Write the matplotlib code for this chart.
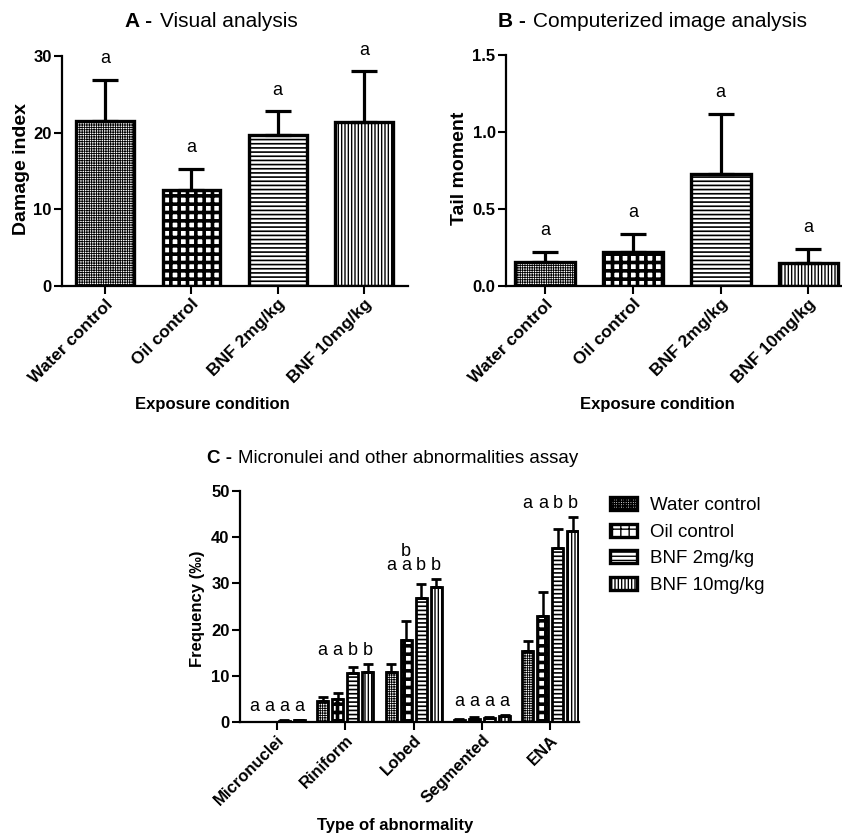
import matplotlib.pyplot as plt
import numpy as np
from matplotlib.patches import Patch

plt.rcParams['font.family'] = ['Liberation Sans', 'DejaVu Sans']

# --- data ---
groups = ['Water control', 'Oil control', 'BNF 2mg/kg', 'BNF 10mg/kg']

# Panel A: comet assay, visual analysis
damage_mean = [21.5, 12.5, 19.7, 21.4]
damage_err = [5.4, 2.8, 3.1, 6.6]
damage_letters = ['a', 'a', 'a', 'a']

# Panel B: comet assay, computerized analysis
tail_mean = [0.156, 0.22, 0.727, 0.149]
tail_err = [0.064, 0.117, 0.393, 0.091]
tail_letters = ['a', 'a', 'a', 'a']

# Panel C: micronuclei and nuclear abnormalities
abn_types = ['Micronuclei', 'Riniform', 'Lobed', 'Segmented', 'ENA']
water_freq = [0.0, 4.6, 10.8, 0.4, 15.4]
oil_freq = [0.0, 5.0, 17.7, 0.7, 22.9]
bnf2_freq = [0.3, 10.5, 26.8, 0.8, 37.6]
bnf10_freq = [0.4, 10.9, 29.3, 1.2, 41.3]
water_err = [0.0, 0.9, 1.7, 0.2, 2.2]
oil_err = [0.0, 1.3, 4.2, 0.3, 5.2]
bnf2_err = [0.1, 1.3, 3.1, 0.3, 4.2]
bnf10_err = [0.1, 1.6, 1.7, 0.4, 3.0]
abn_letters = [['a', 'a', 'a', 'a'],
               ['a', 'a', 'b', 'b'],
               ['a', 'b\na', 'b', 'b'],
               ['a', 'a', 'a', 'a'],
               ['a', 'a', 'b', 'b']]

# --- styles ---
hatches = ['+++++++', '++', '----', '|||||']
hatch_lws = [0.6, 2.6, 1.2, 1.0]

W, H = 842, 839
fig = plt.figure(figsize=(W / 100, H / 100), dpi=100)


def px_axes(l, t, r, b):
    return fig.add_axes([l / W, 1 - b / H, (r - l) / W, (b - t) / H])


def hatched_bars(ax, x, h, width, idx, lw):
    bars = ax.bar(x, h, width, color='white', edgecolor='black', linewidth=lw,
                  hatch=hatches[idx], zorder=2)
    for b in bars:
        if hasattr(b, 'set_hatch_linewidth'):
            b.set_hatch_linewidth(hatch_lws[idx])
    return bars


def style_axes(ax):
    for s in ['top', 'right']:
        ax.spines[s].set_visible(False)
    for s in ['left', 'bottom']:
        ax.spines[s].set_linewidth(1.6)
    ax.tick_params(direction='out', length=5.5, width=1.5, pad=2)
    for lab in ax.get_yticklabels():
        lab.set_fontweight('bold')
        lab.set_fontsize(12)


# ---------------- Panel A ----------------
axA = px_axes(62, 56, 408, 286)
xA = np.arange(len(groups))
for i in range(len(groups)):
    hatched_bars(axA, xA[i], damage_mean[i], 0.67, i, 2.4)
axA.errorbar(xA, damage_mean, yerr=[np.zeros(len(groups)), damage_err], fmt='none',
             ecolor='black', elinewidth=2.3, capsize=9.5, capthick=2.3, zorder=3)
for i, let in enumerate(damage_letters):
    axA.annotate(let, (xA[i], damage_mean[i] + damage_err[i]), xytext=(0, 12),
                 textcoords='offset points', ha='center', va='baseline', fontsize=13)
axA.set_xlim(-0.5, 3.51)
axA.set_ylim(0, 30)
axA.set_yticks([0, 10, 20, 30])
axA.set_xticks(xA)
axA.set_xticklabels(groups, rotation=45, ha='right', rotation_mode='anchor',
                    fontsize=12.5, fontweight='bold')
style_axes(axA)
axA.set_ylabel('Damage index', fontsize=14, fontweight='bold', va='center')
axA.yaxis.set_label_coords(-0.116, 0.51)
axA.set_xlabel('Exposure condition', fontsize=12, fontweight='bold')
axA.xaxis.set_label_coords(0.434, -0.483)

# ---------------- Panel B ----------------
axB = px_axes(506, 55, 841, 286)
for i in range(len(groups)):
    hatched_bars(axB, xA[i], tail_mean[i], 0.68, i, 2.4)
axB.errorbar(xA, tail_mean, yerr=[np.zeros(len(groups)), tail_err], fmt='none',
             ecolor='black', elinewidth=2.3, capsize=9.5, capthick=2.3, zorder=3)
for i, let in enumerate(tail_letters):
    axB.annotate(let, (xA[i], tail_mean[i] + tail_err[i]), xytext=(0, 12),
                 textcoords='offset points', ha='center', va='baseline', fontsize=13)
axB.set_xlim(-0.443, 3.37)
axB.set_ylim(0, 1.5)
axB.set_yticks([0, 0.5, 1.0, 1.5])
axB.set_yticklabels(['0.0', '0.5', '1.0', '1.5'])
axB.set_xticks(xA)
axB.set_xticklabels(groups, rotation=45, ha='right', rotation_mode='anchor',
                    fontsize=12.5, fontweight='bold')
style_axes(axB)
axB.set_ylabel('Tail moment', fontsize=14, fontweight='bold', va='center')
axB.yaxis.set_label_coords(-0.14, 0.51)
axB.set_xlabel('Exposure condition', fontsize=12, fontweight='bold')
axB.xaxis.set_label_coords(0.451, -0.48)

# ---------------- Panel C ----------------
axC = px_axes(240, 491, 579, 722)
xC = np.arange(len(abn_types))
freqs = [water_freq, oil_freq, bnf2_freq, bnf10_freq]
errs = [water_err, oil_err, bnf2_err, bnf10_err]
offsets = (np.arange(4) - 1.5) * 0.22
for i in range(4):
    hatched_bars(axC, xC + offsets[i], freqs[i], 0.16, i, 2.0)
    axC.errorbar(xC + offsets[i], freqs[i], yerr=[np.zeros(len(abn_types)), errs[i]],
                 fmt='none', ecolor='black', elinewidth=1.8, capsize=3.5, capthick=2.0,
                 zorder=3)
tops = np.array(freqs) + np.array(errs)
for g in range(len(abn_types)):
    gtop = tops[:, g].max()
    for i, let in enumerate(abn_letters[g]):
        axC.annotate(let, (xC[g] + offsets[i], gtop), xytext=(0, 6.5),
                     textcoords='offset points', ha='center', va='baseline',
                     fontsize=13, linespacing=0.75)
axC.set_xlim(-0.54, 4.42)
axC.set_ylim(0, 50)
axC.set_yticks(np.arange(0, 51, 10))
axC.set_xticks(xC)
axC.set_xticklabels(abn_types, rotation=45, ha='right', rotation_mode='anchor',
                    fontsize=12, fontweight='bold')
style_axes(axC)
axC.set_ylabel('Frequency (‰)', fontsize=12, fontweight='bold', va='center')
axC.yaxis.set_label_coords(-0.124, 0.49)
axC.set_xlabel('Type of abnormality', fontsize=12, fontweight='bold')
axC.xaxis.set_label_coords(0.457, -0.416)

# legend
handles = []
for i in range(4):
    p = Patch(facecolor='white', edgecolor='black', linewidth=2.4, hatch=hatches[i])
    if hasattr(p, 'set_hatch_linewidth'):
        p.set_hatch_linewidth(hatch_lws[i])
    handles.append(p)
fig.legend(handles, groups, loc='upper left', bbox_to_anchor=(610 / W, 1 - 497 / H),
           frameon=False, fontsize=13.5, handlelength=1.45, handleheight=0.7,
           handletextpad=0.7, labelspacing=0.5, borderpad=0, borderaxespad=0)

# titles (bold panel letter + regular text)
fig.text(125 / W, 1 - 27 / H, 'A -', fontsize=15, fontweight='bold', va='baseline')
fig.text(160 / W, 1 - 27 / H, 'Visual analysis', fontsize=15, va='baseline')
fig.text(498 / W, 1 - 27 / H, 'B -', fontsize=15, fontweight='bold', va='baseline')
fig.text(533 / W, 1 - 27 / H, 'Computerized image analysis', fontsize=15, va='baseline')
fig.text(207 / W, 1 - 463 / H, 'C -', fontsize=13.5, fontweight='bold', va='baseline')
fig.text(238 / W, 1 - 463 / H, 'Micronulei and other abnormalities assay', fontsize=13.5,
         va='baseline')

fig.savefig('out.png', dpi=100)
